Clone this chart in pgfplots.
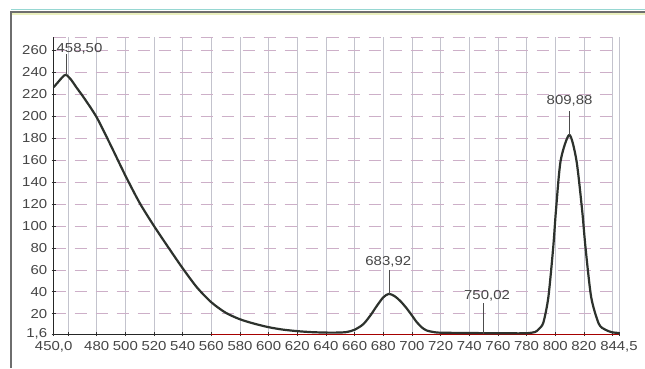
\documentclass[border=0pt]{standalone}
\usepackage{fontspec}
\setmainfont{Liberation Sans}[FakeStretch=1.15]
\usepackage{pgfplots}
\pgfplotsset{compat=1.18}
\definecolor{curve}{RGB}{45,50,45}
\definecolor{hgrid}{RGB}{205,175,200}
\definecolor{vgrid}{RGB}{195,195,205}
\definecolor{lbl}{RGB}{70,70,70}
\definecolor{frame}{RGB}{110,110,110}
\definecolor{teal1}{RGB}{150,215,210}
\definecolor{yel1}{RGB}{235,240,190}
\begin{document}
\begin{tikzpicture}
\useasboundingbox (0,0) rectangle (645pt,-368pt);
\fill[white] (0,0) rectangle (645pt,-368pt);
\draw[teal1, line width=1.5pt] (11pt,-9.5pt) -- (645pt,-9.5pt);
\draw[yel1, line width=1.5pt] (11pt,-14pt) -- (645pt,-14pt);
\draw[frame, line width=1.2pt] (11pt,-368pt) -- (11pt,-12pt) -- (645pt,-12pt);
\begin{axis}[
  scale only axis, width=565.3pt, height=296.8pt,
  at={(53.7pt,-334pt)}, anchor=south west,
  xmin=450, xmax=844.5, ymin=1.6, ymax=272,
  axis lines*=left,
  axis line style={draw=black!85, line width=1pt},
  tick align=center, major tick length=4pt,
  tick style={black!80, line width=0.8pt},
  xtick={450,460,480,500,520,540,560,580,600,620,640,660,680,700,720,740,760,780,800,820,840,844.5},
  xticklabels={{450,0},{},480,500,520,540,560,580,600,620,640,660,680,700,720,740,760,780,800,820,{},{844,5}},
  ytick={1.6,20,40,60,80,100,120,140,160,180,200,220,240,260},
  yticklabels={{1,6},20,40,60,80,100,120,140,160,180,200,220,240,260},
  extra y ticks={271.5}, extra y tick labels={},
  extra y tick style={major tick length=0pt, ymajorgrids=true},
  xmajorgrids, ymajorgrids,
  x grid style={vgrid, line width=0.5pt},
  y grid style={hgrid, line width=0.8pt, dash pattern=on 12pt off 9pt},
  ticklabel style={font=\fontsize{13}{14}\selectfont, text=lbl},
  xticklabel style={yshift=-1.5pt},
  yticklabel style={xshift=-1pt},
  clip=false,
]
\addplot[red!65!black, line width=0.8pt, forget plot] coordinates {(560,1.6) (844.5,1.6)};
\addplot[curve, line width=2.2pt, line join=round, smooth, tension=0.45] coordinates {
(450,226.5) (453,231) (456,235.5) (458.5,237.8) (462,233.5) (466,226) (471,217)
(480,199) (490,173) (500,146) (510,121) (520,100) (530,80.5)
(540,61.5) (550,44) (560,30.5) (570,21) (580,15) (590,11) (600,7.8)
(610,5.6) (620,4.2) (630,3.3) (640,2.9) (648,2.9)
(654.5,3.4) (660,5.5) (666,10.5) (671,18.5) (675.4,27) (680,35) (683.92,38.2)
(688,36) (692,31.5) (696.3,25) (700,18.5) (703.3,12.5) (707,7.5) (710.3,4.8)
(715,3.4) (720,2.8) (740,2.5) (760,2.3) (775,2.2) (781,2.4) (785.9,3.4)
(788.5,6) (791.7,12) (795.2,35.1) (798.6,80.7) (800.5,114) (803.8,159.7)
(809.88,183) (814.8,159.7) (818.8,114) (821.1,80.7)
(825.1,35.1) (830.4,10.9) (835,5.5) (839.6,3.2) (844.5,2.5)
};
\draw[black!70, line width=0.6pt] (axis cs:458.5,237.8) -- (axis cs:458.5,257);
\node[text=lbl, font=\fontsize{13}{14}\selectfont] at (axis cs:468,261.7) {458,50};
\draw[black!70, line width=0.6pt] (axis cs:683.92,38.2) -- (axis cs:683.92,60);
\node[text=lbl, font=\fontsize{13}{14}\selectfont] at (axis cs:683.5,67) {683,92};
\draw[black!70, line width=0.6pt] (axis cs:750.02,1.6) -- (axis cs:750.02,29.4);
\node[text=lbl, font=\fontsize{13}{14}\selectfont] at (axis cs:752.4,36.7) {750,02};
\draw[black!70, line width=0.6pt] (axis cs:809.88,183) -- (axis cs:809.88,205);
\node[text=lbl, font=\fontsize{13}{14}\selectfont] at (axis cs:810,214.3) {809,88};
\end{axis}
\end{tikzpicture}
\end{document}
